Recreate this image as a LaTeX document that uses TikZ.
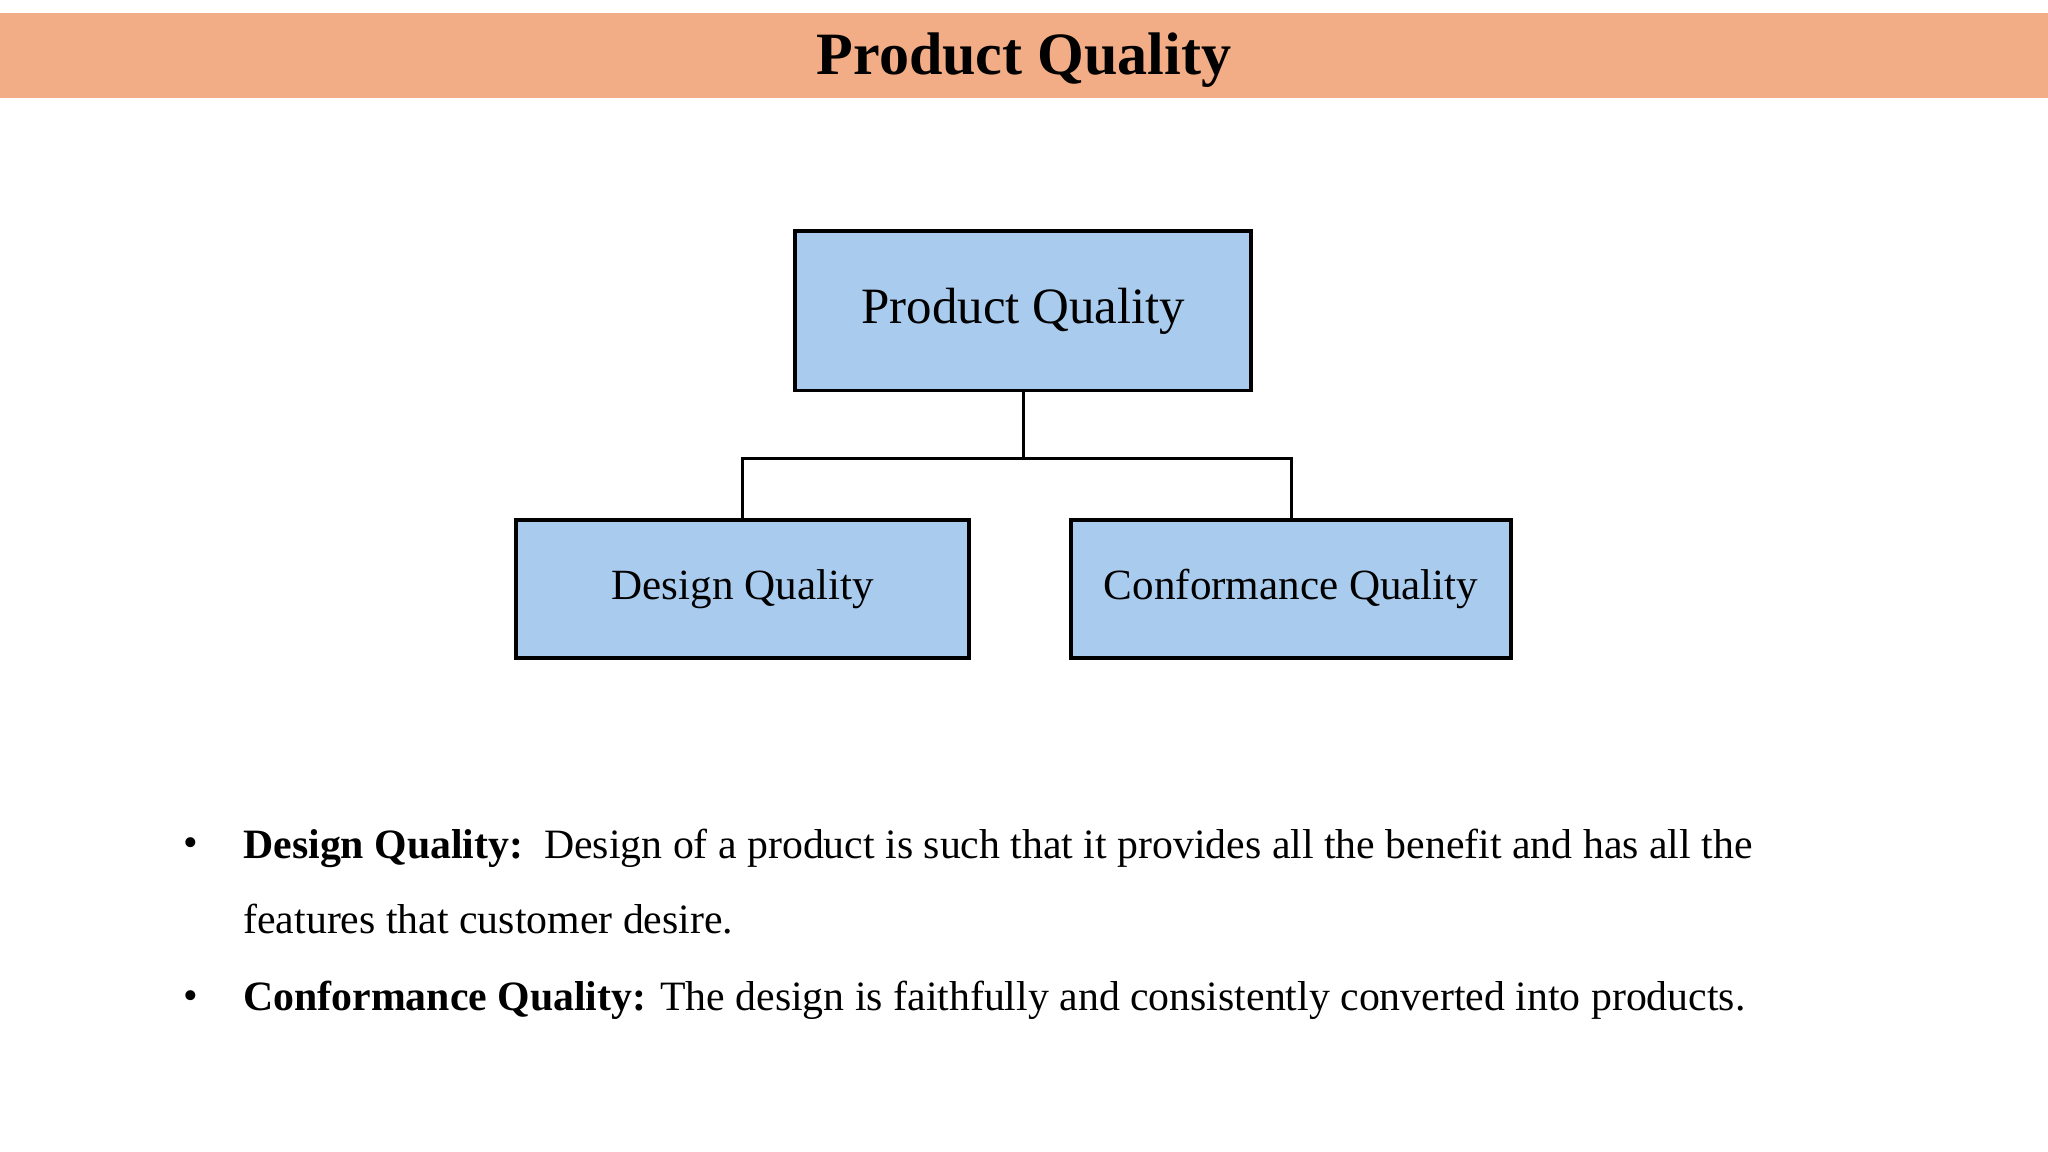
\documentclass[tikz,border=0pt]{standalone}
\usepackage{fontspec}
\setmainfont{Liberation Serif}
\definecolor{band}{HTML}{F2AC86}
\definecolor{boxfill}{HTML}{A8CBEE}
\begin{document}
\begin{tikzpicture}[x=0.5pt,y=-0.5pt,
  qbox/.style={draw=black,line width=1.5pt,fill=boxfill,inner sep=0pt},
  conn/.style={draw=black,line width=1.1pt},
  txt/.style={anchor=base west,inner sep=0pt,font=\fontsize{16}{19}\selectfont}]
\useasboundingbox (0,0) rectangle (1568,882);
\fill[white] (0,0) rectangle (1568,882);
\fill[band] (0,10) rectangle (1568,75);
\node[font=\fontsize{23}{27}\selectfont\bfseries] (title) at (784,46) {Product Quality};
\node[qbox,minimum width=174.5pt,minimum height=61pt,font=\fontsize{19.5}{23}\selectfont] (pq) at (783.5,238) {Product Quality};
\node[qbox,minimum width=173.5pt,minimum height=53pt,font=\fontsize{16.5}{20}\selectfont] (dq) at (568.5,451) {Design Quality};
\node[qbox,minimum width=168.5pt,minimum height=53pt,font=\fontsize{16.5}{20}\selectfont] (cq) at (988.5,451) {Conformance Quality};
\coordinate (mid) at (783.5,351);
\draw[conn] (pq.south) -- (mid);
\draw[conn] (dq.north) |- (mid) -| (cq.north);
\node[txt] (b1) at (140,656) {\textbullet};
\node[txt] (l1) at (186,657) {\textbf{Design Quality:}\ \ Design of a product is such that it provides all the benefit and has all the};
\node[txt] (l2) at (186,715) {features that customer desire.};
\node[txt] (b2) at (140,773) {\textbullet};
\node[txt] (l3) at (186,774) {\textbf{Conformance Quality:} The design is faithfully and consistently converted into products.};
\end{tikzpicture}
\end{document}
